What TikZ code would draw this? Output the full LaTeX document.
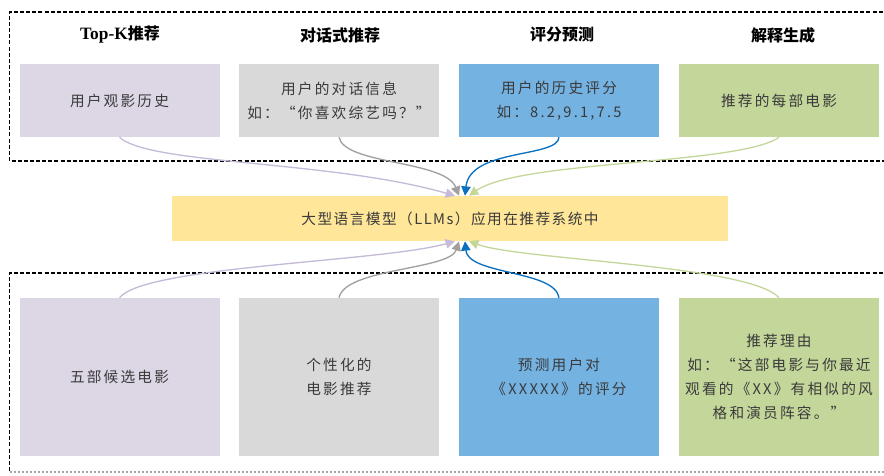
\documentclass[tikz,border=0pt]{standalone}
\usepackage{fontspec}
\setmainfont{Noto Sans CJK SC}
\newfontfamily\latinserif{Liberation Serif}
\usetikzlibrary{arrows.meta}
\definecolor{cpurple}{HTML}{DCD6E5}
\definecolor{cgray}{HTML}{D9D9D9}
\definecolor{cblue}{HTML}{74B2E2}
\definecolor{cgreen}{HTML}{C4D79B}
\definecolor{cyellow}{HTML}{FFE699}
\definecolor{apurple}{HTML}{C5BBD8}
\definecolor{agray}{HTML}{A0A0A0}
\definecolor{ablue}{HTML}{0A70C0}
\definecolor{agreen}{HTML}{C4D79B}
\definecolor{txtgray}{HTML}{3A3A3A}
\newcommand\bodyfont{\fontsize{11pt}{18pt}\selectfont\addfontfeatures{LetterSpace=15}}
\newcommand\titlefont{\fontsize{12pt}{14pt}\selectfont\bfseries}
\begin{document}
\begin{tikzpicture}[x=0.75pt,y=-0.75pt,
  box/.style={inner sep=0pt, minimum width=150pt, text=txtgray, align=center, font=\bodyfont},
  title/.style={font=\titlefont, text=black, inner sep=0pt},
  frame/.style={draw=black, line width=0.9pt, dash pattern=on 3pt off 1.6pt},
  conn/.style={line width=1pt, -{Triangle[length=7pt,width=7pt]}},
]
\useasboundingbox (0,0) rectangle (884,475);
\clip (0,0) rectangle (884,475);
% dashed frames
\draw[frame] (895,12) -- (9.5,12) -- (9.5,161) -- (895,161);
\draw[frame] (895,273) -- (9.5,273) -- (9.5,472);
\draw[draw=black!35, line width=0.8pt, dash pattern=on 2pt off 1pt] (9.5,472) -- (895,472);
% titles
\node[title] (h1) at (120,35) {{\latinserif\fontsize{13pt}{14pt}\selectfont Top-K}推荐};
\node[title] (h2) at (340,35) {对话式推荐};
\node[title] (h3) at (562,35) {评分预测};
\node[title] (h4) at (783,35) {解释生成};
% top boxes
\node[box, fill=cpurple, minimum height=54.75pt] (t1) at (119.5,100.5) {用户观影历史};
\node[box, fill=cgray, minimum height=54.75pt] (t2) at (339,100.5) {用户的对话信息\\如：“你喜欢综艺吗？”};
\node[box, fill=cblue, minimum height=54.75pt] (t3) at (559,100.5) {用户的历史评分\\如：8.2,9.1,7.5};
\node[box, fill=cgreen, minimum height=54.75pt] (t4) at (779,100.5) {推荐的每部电影};
% center
\node[box, fill=cyellow, minimum width=417pt, minimum height=33.75pt,
      font=\fontsize{11pt}{18pt}\selectfont\addfontfeatures{LetterSpace=10}] (llm) at (450,218.5) {大型语言模型（LLMs）应用在推荐系统中};
% bottom boxes
\node[box, fill=cpurple, minimum height=118.5pt] (b1) at (119.5,377) {五部候选电影};
\node[box, fill=cgray, minimum height=118.5pt] (b2) at (339,377) {个性化的\\电影推荐};
\node[box, fill=cblue, minimum height=118.5pt] (b3) at (559,377) {预测用户对\\《XXXXX》的评分};
\node[box, fill=cgreen, minimum height=118.5pt] (b4) at (779,377) {推荐理由\\如：“这部电影与你最近\\观看的《XX》有相似的风\\格和演员阵容。”};
% connectors top
\draw[conn, apurple] (t1.south) .. controls (150,165) and (330,160) .. ([xshift=3.75pt]llm.north);
\draw[conn, agreen] (t4.south) .. controls (740,165) and (520,160) .. ([xshift=14.25pt]llm.north);
\draw[conn, agray] (t2.south) .. controls (345,165) and (445,160) .. ([xshift=6.75pt]llm.north);
\draw[conn, ablue] (t3.south) .. controls (558,158) and (470,148) .. ([xshift=11.25pt]llm.north);
% connectors bottom
\draw[conn, apurple] (b1.north) .. controls (145,266) and (380,262) .. ([xshift=3.75pt]llm.south);
\draw[conn, agreen] (b4.north) .. controls (750,265) and (520,260) .. ([xshift=14.25pt]llm.south);
\draw[conn, agray] (b2.north) .. controls (345,268) and (450,270) .. ([xshift=6.75pt]llm.south);
\draw[conn, ablue] (b3.north) .. controls (555,270) and (468,275) .. ([xshift=11.25pt]llm.south);
\end{tikzpicture}
\end{document}
